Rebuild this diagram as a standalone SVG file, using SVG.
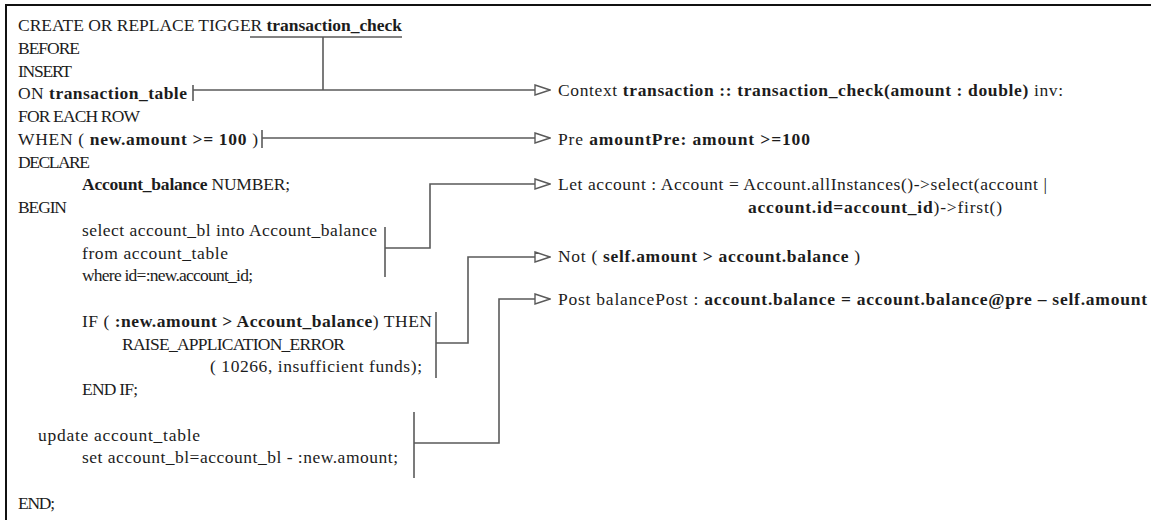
<svg xmlns="http://www.w3.org/2000/svg" width="1151" height="520" viewBox="0 0 1151 520">
<defs>
<style>
text{font-family:"Liberation Serif","Times New Roman",serif;font-size:17.5px;fill:#1c1c1c}
.b{font-weight:bold}
.c{fill:none;stroke:#5a5a5a;stroke-width:1.6}
.a{marker-end:url(#tri)}
.frame{fill:none;stroke:#111;stroke-width:2}
</style>
<marker id="tri" markerUnits="userSpaceOnUse" viewBox="0 0 17 12" markerWidth="17" markerHeight="12" refX="16" refY="6" orient="auto">
<path d="M1,1 L16,6 L1,11 Z" fill="#fff" stroke="#5a5a5a" stroke-width="1.4"/>
</marker>
</defs>
<rect width="1151" height="520" fill="#fff"/>
<path class="frame" d="M6,520 V5 H1151"/>

<g id="connectors">
<path class="c" d="M250,37 H402 M323,37 V90 M193,85 V101"/>
<path class="c a" d="M193,90 H550"/>
<path class="c" d="M262,130 V148"/>
<path class="c a" d="M262,138 H550"/>
<path class="c" d="M385,227 V277"/>
<path class="c a" d="M385,248 H430 V184 H550"/>
<path class="c" d="M436,312 V378"/>
<path class="c a" d="M436,343 H468 V257 H550"/>
<path class="c" d="M414,412 V478"/>
<path class="c a" d="M414,443 H499 V299 H550"/>
</g>

<g id="trigger-header">
<text x="18" y="31" textLength="384" lengthAdjust="spacing">CREATE OR REPLACE TIGGER <tspan class="b">transaction_check</tspan></text>
<text x="18" y="53.75" textLength="62" lengthAdjust="spacing">BEFORE</text>
<text x="18" y="76.5" textLength="54" lengthAdjust="spacing">INSERT</text>
</g>
<g id="on-table">
<text x="18" y="99.25" textLength="169" lengthAdjust="spacing">ON <tspan class="b">transaction_table</tspan></text>
<text x="18" y="122" textLength="122" lengthAdjust="spacing">FOR EACH ROW</text>
</g>
<g id="when-clause">
<text x="18" y="144.75" textLength="240" lengthAdjust="spacing">WHEN ( <tspan class="b">new.amount &gt;= 100</tspan> )</text>
</g>
<g id="declare-block">
<text x="18" y="167.5" textLength="72" lengthAdjust="spacing">DECLARE</text>
<text x="82" y="190.25" textLength="208" lengthAdjust="spacing"><tspan class="b">Account_balance</tspan> NUMBER;</text>
<text x="18" y="213" textLength="49" lengthAdjust="spacing">BEGIN</text>
</g>
<g id="select-block">
<text x="82" y="235.75" textLength="295" lengthAdjust="spacing">select account_bl into Account_balance</text>
<text x="82" y="258.5" textLength="146" lengthAdjust="spacing">from account_table</text>
<text x="82" y="281.25" textLength="171" lengthAdjust="spacing">where id=:new.account_id;</text>
</g>
<g id="if-block">
<text x="82" y="326.75" textLength="350" lengthAdjust="spacing">IF ( <tspan class="b">:new.amount &gt; Account_balance</tspan>) THEN</text>
<text x="122" y="349.5" textLength="223" lengthAdjust="spacing">RAISE_APPLICATION_ERROR</text>
<text x="210" y="372.25" textLength="212" lengthAdjust="spacing">( 10266, insufficient funds);</text>
<text x="82" y="395" textLength="56" lengthAdjust="spacing">END IF;</text>
</g>
<g id="update-block">
<text x="38" y="440.5" textLength="162" lengthAdjust="spacing">update account_table</text>
<text x="82" y="463.25" textLength="316" lengthAdjust="spacing">set account_bl=account_bl - :new.amount;</text>
</g>
<g id="end">
<text x="18" y="508.75" textLength="37" lengthAdjust="spacing">END;</text>
</g>

<g id="ocl-context">
<text x="558" y="96" textLength="505" lengthAdjust="spacing">Context <tspan class="b">transaction :: transaction_check(amount : double)</tspan> inv:</text>
</g>
<g id="ocl-pre">
<text x="558" y="145" textLength="252" lengthAdjust="spacing">Pre <tspan class="b">amountPre: amount &gt;=100</tspan></text>
</g>
<g id="ocl-let">
<text x="558" y="190" textLength="489" lengthAdjust="spacing">Let account : Account = Account.allInstances()-&gt;select(account |</text>
<text x="748" y="213" textLength="254" lengthAdjust="spacing"><tspan class="b">account.id=account_id</tspan>)-&gt;first()</text>
</g>
<g id="ocl-not">
<text x="558" y="262" textLength="302" lengthAdjust="spacing">Not ( <tspan class="b">self.amount &gt; account.balance</tspan> )</text>
</g>
<g id="ocl-post">
<text x="558" y="305" textLength="589" lengthAdjust="spacing">Post balancePost : <tspan class="b">account.balance = account.balance@pre – self.amount</tspan></text>
</g>
</svg>
